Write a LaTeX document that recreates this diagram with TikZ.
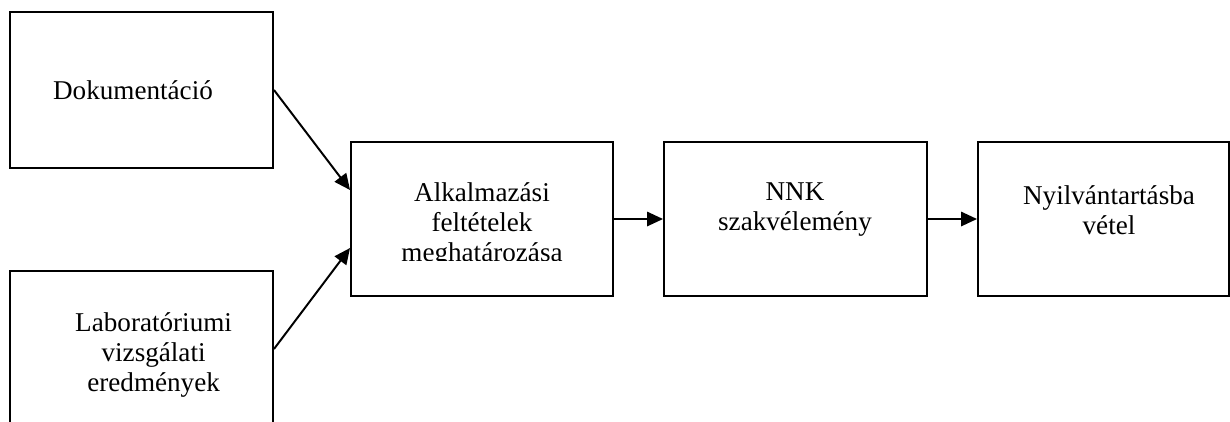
\documentclass[tikz,border=0pt]{standalone}
\usepackage{fontspec}
\setmainfont{Liberation Serif}
\usetikzlibrary{arrows.meta}

\begin{document}
\begin{tikzpicture}[box/.style={draw,line width=1.4pt,minimum width=6.575cm,minimum height=3.9cm,inner sep=0pt},
  lbl/.style={align=center,inner sep=0pt,font=\fontsize{19.3}{21.3}\selectfont},
  arr/.style={line width=1.4pt,-{Triangle[length=4mm,width=3.6mm]}}]
\useasboundingbox (0,0) rectangle (30.75,-10.525);
\clip (0,0) rectangle (30.75,-10.525);

%inputs
\node[box] (doc) at (3.5375,-2.25) {};
\node[box] (lab) at (3.5375,-8.725) {};

\node[lbl] (doct) at (3.325,-2.25) {Dokumentáció};
\node[lbl] (labt) at (3.84,-8.875) {Laboratóriumi\\vizsgálati\\eredmények};

%process
\node[box,minimum width=6.55cm,minimum height=3.85cm] (alk) at (12.05,-5.475) {};
\node[box,minimum width=6.575cm,minimum height=3.85cm] (nnk) at (19.8875,-5.475) {};
\node[box,minimum width=6.275cm,minimum height=3.85cm] (nyt) at (27.5875,-5.475) {};

\begin{scope}
\clip (9,-2) rectangle (15,-6.5);
\node[lbl] (alkt) at (12.05,-5.625) {Alkalmazási\\feltételek\\meghatározása};
\end{scope}
\node[lbl] (nnkt) at (19.875,-5.25) {NNK\\szakvélemény};
\node[lbl] (nytt) at (27.725,-5.25) {Nyilvántartásba\\vétel};

\draw[arr] (doc.east) -- ([yshift=7.25mm]alk.west);
\draw[arr] (lab.east) -- ([yshift=-7.25mm]alk.west);
\draw[arr] (alk) -- (nnk);
\draw[arr] (nnk) -- (nyt);

\end{tikzpicture}
\end{document}
